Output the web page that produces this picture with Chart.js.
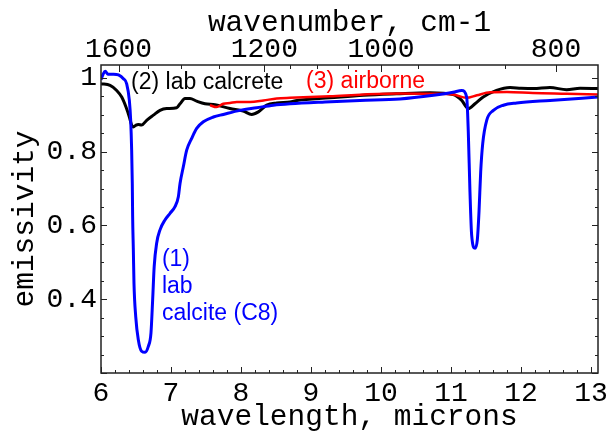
<!DOCTYPE html>
<html><head><meta charset="utf-8">
<script src="https://cdn.jsdelivr.net/npm/chart.js@4"></script>
<style>html,body{margin:0;padding:0;background:#fff}</style>
</head><body>
<canvas id="c" width="607" height="434"></canvas>
<script>
// (1) lab calcite (C8) - blue
const calciteX = [6.00,6.03,6.06,6.10,6.18,6.25,6.32,6.367,6.405,6.424,6.438,6.447,6.452,6.462,6.471,6.496,6.533,6.58,6.629,6.676,6.714,6.738,6.76,6.795,6.843,6.914,6.986,7.057,7.105,7.129,7.176,7.224,7.295,7.367,7.462,7.605,7.748,7.986,8.224,8.462,8.70,9.20,9.70,10.27,10.75,11.03,11.153,11.224,11.247,11.271,11.295,11.343,11.376,11.40,11.424,11.453,11.51,11.605,11.748,11.938,12.414,13.10];
const calciteY = [0.995,1.010,1.018,1.010,1.010,1.008,0.998,0.984,0.939,0.885,0.804,0.714,0.624,0.534,0.444,0.353,0.290,0.259,0.256,0.272,0.309,0.399,0.489,0.552,0.588,0.615,0.633,0.651,0.678,0.714,0.759,0.804,0.836,0.863,0.881,0.894,0.901,0.912,0.919,0.926,0.930,0.935,0.939,0.943,0.953,0.961,0.966,0.948,0.854,0.691,0.574,0.538,0.561,0.637,0.745,0.822,0.885,0.912,0.926,0.932,0.939,0.948];
// (2) lab calcrete - black
const calcreteX = [6.00,6.13,6.224,6.296,6.357,6.405,6.438,6.462,6.50,6.533,6.58,6.652,6.748,6.843,6.938,7.081,7.129,7.20,7.271,7.367,7.486,7.629,7.843,8.033,8.152,8.248,8.367,8.51,8.70,8.80,9.27,9.75,10.22,10.70,11.03,11.153,11.247,11.343,11.46,11.65,11.843,12.00,12.176,12.414,12.652,12.843,13.10];
const calcreteY = [0.984,0.980,0.966,0.948,0.921,0.894,0.872,0.867,0.872,0.874,0.872,0.885,0.899,0.912,0.917,0.919,0.930,0.944,0.944,0.937,0.930,0.927,0.917,0.910,0.901,0.908,0.926,0.932,0.935,0.939,0.946,0.953,0.957,0.960,0.955,0.939,0.917,0.930,0.948,0.966,0.974,0.972,0.971,0.974,0.968,0.972,0.971];
// (3) airborne - red
const airborneX = [7.557,7.65,7.748,7.843,7.94,8.13,8.32,8.51,8.70,9.27,9.75,10.27,10.75,11.03,11.22,11.37,11.56,11.80,12.17,12.65,13.10];
const airborneY = [0.926,0.921,0.930,0.932,0.935,0.935,0.939,0.944,0.946,0.950,0.955,0.958,0.957,0.955,0.946,0.953,0.961,0.962,0.959,0.957,0.955];

const wavelengthTicks = [6,7,8,9,10,11,12,13];
const wavenumberTicks = [1600,1200,1000,800];
const wavenumberMinorTicks = [1500,1400,1300,1150,1100,1050,950,900,850];
const emissivityTicks = [0.4,0.6,0.8,1];

const MONO = "'Liberation Mono', 'Courier New', monospace";
const SANS = "'Liberation Sans', Arial, sans-serif";

function pts(xs, ys){ return xs.map((x,i)=>({x:x, y:ys[i]})); }

const frame = {
  id:'frame',
  afterDraw(chart){
    const {ctx, chartArea:a, scales} = chart;
    const x = scales.x, y = scales.y;
    ctx.save();
    ctx.strokeStyle = '#222';
    ctx.lineWidth = 1;
    ctx.beginPath();
    for (let i=0;i<=35;i++){
      const v = 6 + i*0.2;
      const px = Math.round(x.getPixelForValue(v))+0.5;
      const L = (i%5===0)?6:3;
      ctx.moveTo(px,a.bottom); ctx.lineTo(px,a.bottom-L);
    }
    wavenumberTicks.concat(wavenumberMinorTicks).forEach(w=>{
      const px = Math.round(x.getPixelForValue(10000/w))+0.5;
      const L = wavenumberTicks.includes(w)?7:4;
      ctx.moveTo(px,a.top); ctx.lineTo(px,a.top+L);
    });
    for (let i=0;i<=16;i++){
      const v = 0.2 + i*0.05;
      const py = Math.round(y.getPixelForValue(v))+0.5;
      const L = (i%4===0)?6:3;
      ctx.moveTo(a.left,py); ctx.lineTo(a.left+L,py);
      ctx.moveTo(a.right,py); ctx.lineTo(a.right-L,py);
    }
    ctx.stroke();
    ctx.lineWidth = 1.5;
    ctx.strokeRect(a.left, a.top, a.right-a.left, a.bottom-a.top);
    ctx.restore();
  },
  afterDatasetsDraw(chart){
    const {ctx, scales} = chart;
    const x = scales.x, y = scales.y;
    ctx.save();
    ctx.font = "23px " + SANS;
    ctx.textBaseline = 'middle';
    ctx.textAlign = 'left';
    ctx.fillStyle = '#000';
    ctx.fillText('(2) lab calcrete', x.getPixelForValue(6.43), y.getPixelForValue(0.988));
    ctx.fillStyle = '#ff0000';
    ctx.fillText('(3) airborne', x.getPixelForValue(8.93), y.getPixelForValue(0.99));
    ctx.fillStyle = '#0000ff';
    ctx.fillText('(1)', x.getPixelForValue(6.87), y.getPixelForValue(0.507));
    ctx.fillText('lab', x.getPixelForValue(6.87), y.getPixelForValue(0.434));
    ctx.fillText('calcite (C8)', x.getPixelForValue(6.87), y.getPixelForValue(0.361));
    ctx.restore();
  }
};

new Chart(document.getElementById('c'), {
  type:'line',
  data:{datasets:[
    {label:'(1) lab calcite (C8)', data:pts(calciteX,calciteY), borderColor:'#0000ff', borderWidth:3, pointRadius:0, cubicInterpolationMode:'monotone', order:0},
    {label:'(3) airborne', data:pts(airborneX,airborneY), borderColor:'#ff0000', borderWidth:2.5, pointRadius:0, cubicInterpolationMode:'monotone', order:1},
    {label:'(2) lab calcrete', data:pts(calcreteX,calcreteY), borderColor:'#000000', borderWidth:3, pointRadius:0, cubicInterpolationMode:'monotone', order:2}
  ]},
  options:{
    responsive:false, animation:false, devicePixelRatio:1,
    layout:{padding:{top:0,left:0,right:9,bottom:0}},
    plugins:{legend:{display:false}, tooltip:{enabled:false}},
    scales:{
      x:{type:'linear', position:'bottom', min:6, max:13.1,
        afterBuildTicks:s=>{s.ticks = wavelengthTicks.map(v=>({value:v}));},
        afterFit:s=>{s.height=61; s.paddingLeft=0; s.paddingRight=0;},
        ticks:{font:{family:MONO,size:28}, color:'#000', padding:4, autoSkip:false, maxRotation:0, callback:v=>String(v)},
        grid:{display:false, drawTicks:false}, border:{display:false},
        title:{display:true, text:'wavelength, microns', color:'#000', font:{family:MONO,size:29.5,lineHeight:1}, padding:{top:0,bottom:2}}
      },
      x2:{type:'linear', position:'top', min:6, max:13.1,
        afterBuildTicks:s=>{s.ticks = wavenumberTicks.map(w=>({value:10000/w}));},
        afterFit:s=>{s.height=65; s.paddingLeft=0; s.paddingRight=0;},
        ticks:{font:{family:MONO,size:28}, color:'#000', padding:-1, autoSkip:false, maxRotation:0, callback:v=>String(Math.round(10000/v))},
        grid:{display:false, drawTicks:false}, border:{display:false},
        title:{display:true, text:'wavenumber, cm-1', color:'#000', font:{family:MONO,size:29.5,lineHeight:1}, padding:{top:8,bottom:0}}
      },
      y:{type:'linear', position:'left', min:0.2, max:1.035,
        afterBuildTicks:s=>{s.ticks = emissivityTicks.map(v=>({value:v}));},
        afterFit:s=>{s.width=101; s.paddingTop=0; s.paddingBottom=0;},
        ticks:{font:{family:MONO,size:28}, color:'#000', padding:4, autoSkip:false, callback:v=>(v===1?'1':v.toFixed(1))},
        grid:{display:false, drawTicks:false}, border:{display:false},
        title:{display:true, text:'emissivity', color:'#000', font:{family:MONO,size:29.5,lineHeight:1}, padding:{top:10,bottom:0}}
      }
    }
  },
  plugins:[frame]
});
</script>
</body></html>
